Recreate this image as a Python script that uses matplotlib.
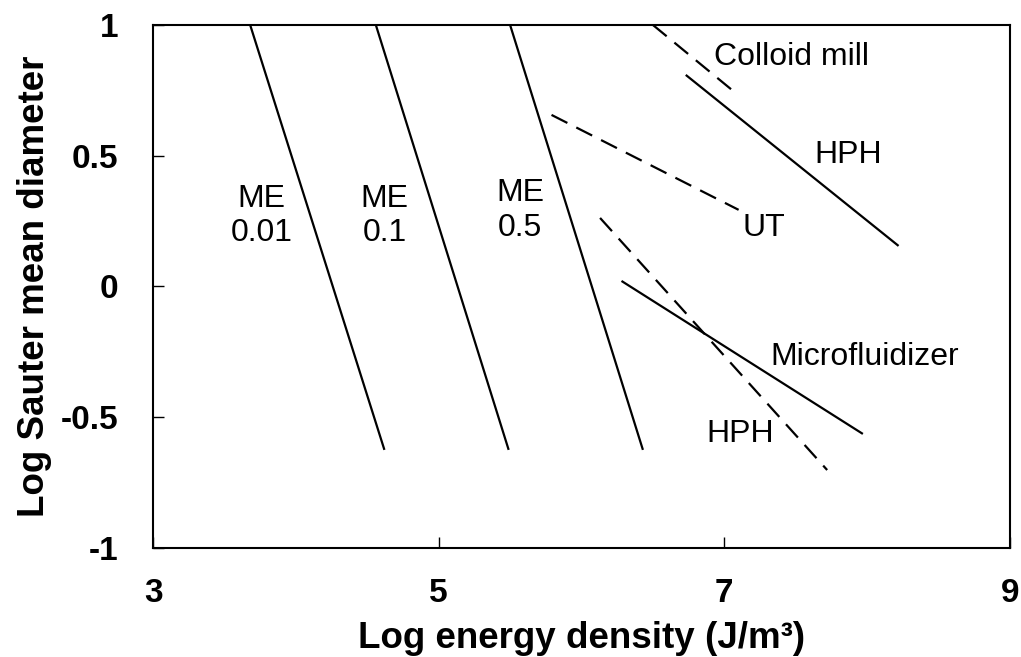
import matplotlib
matplotlib.use("Agg")
import matplotlib.pyplot as plt

plt.rcParams["font.family"] = ["Liberation Sans", "DejaVu Sans"]
plt.rcParams["axes.unicode_minus"] = False

# line end points (x = log energy density, y = log d32)
me001_x = [3.68, 4.62]
me001_y = [1.0, -0.625]
me01_x = [4.56, 5.49]
me01_y = [1.0, -0.625]
me05_x = [5.50, 6.43]
me05_y = [1.0, -0.625]
colloid_x = [6.50, 7.07]
colloid_y = [1.0, 0.744]
hph_up_x = [6.73, 8.22]
hph_up_y = [0.809, 0.155]
ut_x = [5.79, 7.10]
ut_y = [0.656, 0.293]
hph_lo_x = [6.13, 7.72]
hph_lo_y = [0.262, -0.702]
micro_x = [6.28, 7.97]
micro_y = [0.021, -0.564]

xticks = [3, 5, 7, 9]
yticks = [-1, -0.5, 0, 0.5, 1]
yticklabels = ["-1", "-0.5", "0", "0.5", "1"]

fig = plt.figure(figsize=(10.21, 6.57), dpi=100)
ax = fig.add_axes([0.1499, 0.166, 0.8393, 0.796])

solid = dict(color="black", lw=1.6, solid_capstyle="butt")
dash = dict(color="black", lw=1.6, linestyle=(0, (8, 4.5)))

ax.plot(me001_x, me001_y, **solid)
ax.plot(me01_x, me01_y, **solid)
ax.plot(me05_x, me05_y, **solid)
ax.plot(hph_up_x, hph_up_y, **solid)
ax.plot(micro_x, micro_y, **solid)
ax.plot(colloid_x, colloid_y, **dash)
ax.plot(ut_x, ut_y, **dash)
ax.plot(hph_lo_x, hph_lo_y, **dash)

fs = 23
ax.text(3.76, 0.27, "ME\n0.01", fontsize=fs, ha="center", va="center")
ax.text(4.62, 0.27, "ME\n0.1", fontsize=fs, ha="center", va="center")
ax.text(5.57, 0.29, "ME\n0.5", fontsize=fs, ha="center", va="center")
ax.text(7.47, 0.878, "Colloid mill", fontsize=fs, ha="center", va="center")
ax.text(7.87, 0.503, "HPH", fontsize=fs, ha="center", va="center")
ax.text(7.28, 0.224, "UT", fontsize=fs, ha="center", va="center")
ax.text(7.98, -0.27, "Microfluidizer", fontsize=fs, ha="center", va="center")
ax.text(7.11, -0.565, "HPH", fontsize=fs, ha="center", va="center")

ax.set_xlim(3, 9)
ax.set_ylim(-1, 1)
ax.set_xticks(xticks)
ax.set_yticks(yticks)
ax.set_yticklabels(yticklabels)
ax.tick_params(direction="in", length=8, width=1, labelsize=24)
ax.tick_params(axis="y", pad=25)
ax.tick_params(axis="x", pad=22)
for lab in ax.get_xticklabels() + ax.get_yticklabels():
    lab.set_fontweight("bold")
for sp in ax.spines.values():
    sp.set_linewidth(1.5)

ax.set_xlabel("Log energy density (J/m³)", fontsize=26.5, fontweight="bold", labelpad=8)
ax.set_ylabel("Log Sauter mean diameter", fontsize=26.5, fontweight="bold", labelpad=6)

fig.savefig("out.png", dpi=100)
